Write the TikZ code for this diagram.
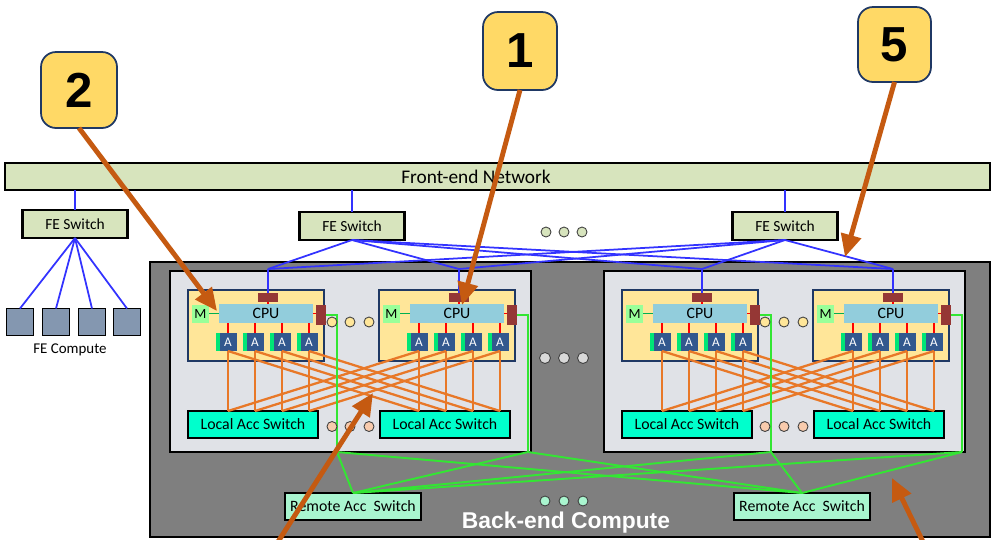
\documentclass[tikz,border=0pt]{standalone}
\usepackage{fontspec}
\setmainfont{Carlito}
\newfontfamily\arialfont{Liberation Sans}
\usetikzlibrary{arrows.meta,positioning,calc}
\definecolor{nwGreen}  {RGB}{215,228,189}
\definecolor{nwSlate}  {RGB}{132,151,176}
\definecolor{nwGrey}   {RGB}{127,127,127}
\definecolor{nwPod}    {RGB}{224,226,231}
\definecolor{nwNavy}   {RGB}{ 31, 56,100}
\definecolor{nwYellow} {RGB}{255,230,153}
\definecolor{nwMem}    {RGB}{153,255,153}
\definecolor{nwCpu}    {RGB}{146,205,220}
\definecolor{nwBrown}  {RGB}{149, 55, 53}
\definecolor{nwAcc}    {RGB}{ 50, 88,142}
\definecolor{nwAccBar} {RGB}{  0,230,118}
\definecolor{nwAqua}   {RGB}{  0,255,204}
\definecolor{nwMint}   {RGB}{169,245,207}
\definecolor{nwDark}   {RGB}{ 64, 64, 64}
\definecolor{nwCallout}{RGB}{255,217,102}
\definecolor{nwArrow}  {RGB}{197, 90, 17}
\definecolor{nwBlue}   {RGB}{ 51, 51,255}
\definecolor{nwOrange} {RGB}{232,120, 40}
\definecolor{nwLime}   {RGB}{ 51,230, 51}
\definecolor{nwPeach}  {RGB}{248,203,173}
\definecolor{nwLight}  {RGB}{217,217,217}
\definecolor{nwDkGreen}{RGB}{  0,176, 80}

\begin{document}
\begin{tikzpicture}[x=0.02cm,y=-0.02cm,
  every node/.style={inner sep=0pt,outer sep=0pt},
  fenetbar/.style={draw,line width=1.2pt,fill=nwGreen,minimum width=19.7cm,minimum height=0.54cm},
  feswitch/.style={draw,line width=1.2pt,fill=nwGreen,minimum width=2.1cm,minimum height=0.56cm,
                   font=\fontsize{8.8}{10}\selectfont},
  fehost/.style={draw,line width=0.8pt,fill=nwSlate,minimum size=0.54cm},
  berack/.style={draw,line width=1.2pt,fill=nwGrey,minimum width=16.8cm,minimum height=5.5cm},
  bepod/.style={draw,line width=1.2pt,fill=nwPod,minimum width=7.22cm,minimum height=3.62cm},
  serverbox/.style={draw=nwNavy,line width=0.6pt,fill=nwYellow,minimum width=2.72cm,minimum height=1.42cm},
  membox/.style={fill=nwMem,minimum width=0.34cm,minimum height=0.36cm,font=\fontsize{8}{9}\selectfont},
  cpubox/.style={fill=nwCpu,minimum width=1.88cm,minimum height=0.38cm,font=\fontsize{9}{10}\selectfont},
  nicbox/.style={fill=nwBrown},
  accbox/.style={fill=nwAcc,minimum width=0.34cm,minimum height=0.36cm,text=white,
                 font=\fontsize{7.5}{8}\selectfont},
  accbar/.style={fill=nwAccBar,minimum width=0.08cm,minimum height=0.36cm},
  localsw/.style={draw,line width=0.8pt,fill=nwAqua,minimum width=2.6cm,minimum height=0.54cm,
                  font=\fontsize{9}{10}\selectfont},
  remotesw/.style={draw,line width=0.8pt,fill=nwMint,minimum width=2.72cm,minimum height=0.54cm,
                   font=\fontsize{9}{10}\selectfont},
  dotmark/.style={circle,draw=nwDark,line width=0.5pt,minimum size=0.2cm},
  calloutbox/.style={draw=nwNavy,line width=1pt,fill=nwCallout,rounded corners=0.3cm,
                     font=\arialfont\bfseries\fontsize{28}{30}\selectfont},
  pointer/.style={draw=nwArrow,line width=2.8pt,-{Triangle[length=0.45cm,width=0.4cm]}},
  felink/.style={draw=nwBlue,line width=1pt},
  acclink/.style={draw=nwOrange,line width=1.3pt},
  belink/.style={draw=nwLime,line width=1.1pt},
  redlink/.style={draw=red,line width=1pt}
]
\useasboundingbox (0,0) rectangle (993,539);

\node[fenetbar] (fenet) at (497.5,176.5) {};
\node[font=\fontsize{11}{12}\selectfont] (fenetlbl) at (476,177) {Front-end Network};

\node[feswitch] (fes1) at (75,224) {FE Switch};
\node[feswitch] (fes2) at (352,226) {FE Switch};
\node[feswitch] (fes3) at (785,226) {FE Switch};
\foreach \s in {fes1,fes2,fes3}
  \draw[felink] (\s.north) -- (\s.north |- fenet.south);

\foreach \h/\hx in {h1/20,h2/56,h3/92,h4/127}{
  \node[fehost] (\h) at (\hx,322) {};
  \draw[felink] (fes1.south) -- (\h.north);
}
\node[font=\fontsize{8.5}{10}\selectfont] (fehostlbl) at (70,350) {FE Compute};

\foreach \dx in {546,564,582}
  \node[dotmark,fill=nwGreen] (fed\dx) at (\dx,232) {};

\node[berack] (be) at (570,399.5) {};
\node[bepod] (pod1) at (350.5,361.5) {};
\node[bepod] (pod2) at (784.5,361.5) {};

\foreach \sx/\nm in {188/s1,379/s2,622/s3,813/s4}{
  \coordinate (\nm-up) at (\sx+80,269);
  \coordinate (\nm-gd) at (\sx+149,452);
  \node[serverbox,anchor=north west] (\nm) at (\sx,290) {};
  \node[membox] (\nm-m) at (\sx+12.5,313.5) {M};
  \node[cpubox] (\nm-cpu) at (\sx+78,313.5) {CPU};
  \node[nicbox,minimum width=0.4cm,minimum height=0.18cm] (\nm-top) at (\sx+80,297.5) {};
  \node[nicbox,minimum width=0.2cm,minimum height=0.4cm] (\nm-rb) at (\sx+133,315) {};
  \draw[draw=nwDkGreen,line width=1pt] (\nm-m.east) -- (\nm-cpu.west);
  \draw[redlink] (\nm-top.south) -- (\nm-top.south |- \nm-cpu.north);
  \draw[redlink] (\nm-cpu.east) -- (\nm-cpu.east -| \nm-rb.west);
  \foreach \i/\ax in {1/40,2/67,3/94,4/121}{
    \node[accbox] (\nm-a\i) at (\sx+\ax,342) {A};
    \node[accbar,anchor=east] (\nm-b\i) at (\nm-a\i.west) {};
    \draw[redlink] (\nm-a\i.north) -- (\nm-a\i.north |- \nm-cpu.south);
  }
}

\foreach \nm in {s1,s2,s3,s4}{
  \draw[felink] (\nm-up) -- (\nm-top.north);
  \draw[felink] (fes2.south) -- (\nm-up);
  \draw[felink] (fes3.south) -- (\nm-up);
}

\foreach \lx/\nm in {188/l1,380/l2,622/l3,814/l4}
  \node[localsw,anchor=north west] (\nm) at (\lx,411) {Local Acc Switch};

\foreach \sa/\sb/\la/\lb in {s1/s2/l1/l2,s3/s4/l3/l4}
  \foreach \i in {1,...,4}{
    \draw[acclink] (\sa-a\i.south) -- (\sa-a\i.south |- \la.north);
    \draw[acclink] (\sa-a\i.south) -- (\sb-a\i.south |- \lb.north);
    \draw[acclink] (\sb-a\i.south) -- (\sb-a\i.south |- \lb.north);
    \draw[acclink] (\sb-a\i.south) -- (\sa-a\i.south |- \la.north);
  }

\node[remotesw] (r1) at (353,506.5) {Remote Acc\ \ Switch};
\node[remotesw] (r2) at (802,506.5) {Remote Acc\ \ Switch};

\foreach \nm in {s1,s2,s3,s4}{
  \draw[belink] (\nm-rb.east) -| (\nm-gd);
  \foreach \r in {r1,r2}
    \draw[belink] (\nm-gd) -- (\r.north);
}

\foreach \dx in {332,350,369,765,784,803}{
  \node[dotmark,fill=nwYellow] (cd\dx) at (\dx,322) {};
  \node[dotmark,fill=nwPeach] (ld\dx) at (\dx,426.5) {};
}
\foreach \dx in {545,564,583}{
  \node[dotmark,fill=nwLight,minimum size=0.22cm] (pd\dx) at (\dx,358) {};
  \node[dotmark,fill=nwMint] (rd\dx) at (\dx,501) {};
}

\node[font=\arialfont\bfseries\fontsize{13}{14}\selectfont,text=white] (belbl) at (566,523) {Back-end Compute};

\node[calloutbox,minimum width=1.52cm,minimum height=1.52cm] (c2) at (79,90) {2};
\node[calloutbox,minimum width=1.48cm,minimum height=1.56cm] (c1) at (520,51) {1};
\node[calloutbox,minimum width=1.46cm,minimum height=1.5cm] (c5) at (894.5,44.5) {5};

\coordinate (t2) at (217,311);
\coordinate (t1) at (462,305);
\coordinate (t5) at (845,257);
\coordinate (t3) at (373,393);
\coordinate (t4) at (892,478);
\coordinate (b3) at (274,548);
\coordinate (b4) at (926,548);
\draw[pointer] (c2.south) -- (t2);
\draw[pointer] (c1.south) -- (t1);
\draw[pointer] (c5.south) -- (t5);
\draw[pointer] (b3) -- (t3);
\draw[pointer] (b4) -- (t4);
\end{tikzpicture}
\end{document}
